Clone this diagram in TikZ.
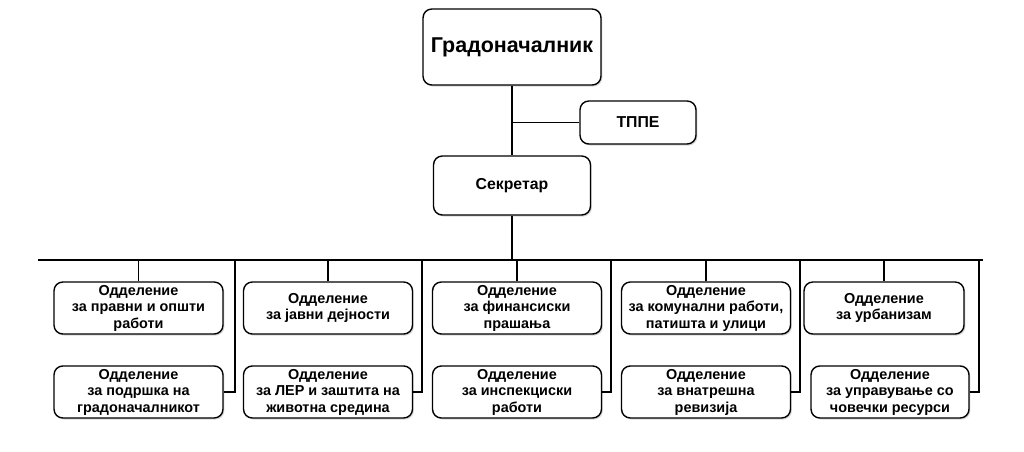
\documentclass[tikz,border=0pt]{standalone}
\usepackage{fontspec}
\setmainfont{Liberation Sans}
\usetikzlibrary{shadows}
\usetikzlibrary{positioning}

\begin{document}
\begin{tikzpicture}[x=0.02cm, y=-0.02cm, line width=0.7pt, on grid, node distance=1.68cm,
    box/.style ={rectangle, rounded corners=5pt, draw, fill=white, line width=0.8pt,
    drop shadow={shadow xshift=0.8pt, shadow yshift=-0.9pt, opacity=0.3},
    align=center, inner sep=0pt, font=\bfseries},
    dept/.style ={box, minimum width=3.38cm, minimum height=1.04cm,
    font=\bfseries\fontsize{8.2}{9.4}\selectfont}]
    \useasboundingbox (0,0) rectangle (1024,451);
    % top of the chart
    \node[box, minimum width=3.56cm, minimum height=1.52cm, font=\bfseries\fontsize{12.2}{14}\selectfont] (mayor) at (512,47) {Градоначалник};
    \node[box, minimum width=2.32cm, minimum height=0.86cm, font=\bfseries\fontsize{9}{11}\selectfont] (tppe) at (638,122.5) {ТППЕ};
    \node[box, minimum width=3.14cm, minimum height=1.18cm, font=\bfseries\fontsize{9}{11}\selectfont] (secr) at (512,185.5) {Секретар};
    \draw (mayor) -- (secr);
    \draw (tppe.west) -- (tppe.west -| mayor.south);
    % bus
    \coordinate (busL) at (38,260);
    \coordinate (busR) at (983,260);
    \draw (busL) -- (busR);
    \draw (secr.south) -- (secr.south |- busL);
    % departments, first row
    \node[dept] (d1) at (138.5,308) {Одделение\\за правни и општи\\работи};
    \node[dept] (d2) at (328,308) {Одделение\\за јавни дејности};
    \node[dept] (d3) at (517,308) {Одделение\\за финансиски\\прашања};
    \node[dept] (d4) at (706,308) {Одделение\\за комунални работи,\\патишта и улици};
    \node[dept, minimum width=3.2cm] (d5) at (884,308) {Одделение\\за урбанизам};
    % departments, second row
    \node[dept] (e1) [below = of d1] {Одделение\\за подршка на\\градоначалникот};
    \node[dept] (e2) [below = of d2] {Одделение\\за ЛЕР и заштита на\\животна средина};
    \node[dept] (e3) [below = of d3] {Одделение\\за инспекциски\\работи};
    \node[dept] (e4) [below = of d4] {Одделение\\за внатрешна\\ревизија};
    \node[dept, minimum width=3.16cm] (e5) [below right = 1.68cm and 0.12cm of d5] {Одделение\\за управување со\\човечки ресурси};
    % links to the bus
    \foreach \d in {d1,d2,d3,d4,d5}
      \draw (\d.north) -- (\d.north |- busL);
    \foreach \e/\x in {e1/235,e2/422,e3/611,e4/800,e5/979}
      \draw (\e.east) -- (\e.east -| {\x,0}) -- (\x,260);
\end{tikzpicture}
\end{document}
